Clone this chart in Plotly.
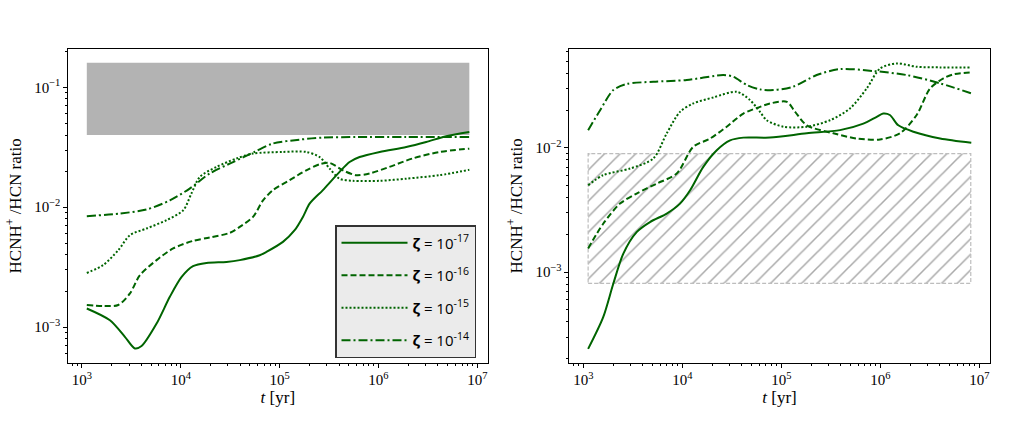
import plotly.graph_objects as go

# ---- data: left panel ----
t_l_17 = [1.12e3, 1.92e3, 2.72e3, 3.43e3, 4.01e3, 5.69e3, 7.75e3, 1.02e4, 1.33e4, 1.82e4, 2.9e4,
          3.95e4, 6.29e4, 7.35e4, 1.08e5, 1.42e5, 1.72e5, 2.01e5, 2.74e5, 4.04e5, 5.1e5, 6.44e5,
          1.03e6, 1.91e6, 3.04e6, 4.83e6, 8.3e6]
r_l_17 = [1.43e-3, 1.14e-3, 8.3e-4, 6.64e-4, 6.95e-4, 1.07e-3, 1.79e-3, 2.62e-3, 3.22e-3, 3.43e-3, 3.5e-3,
          3.62e-3, 3.98e-3, 4.24e-3, 5.14e-3, 6.43e-3, 8.3e-3, 1.07e-2, 1.39e-2, 1.97e-2, 2.38e-2, 2.62e-2,
          2.89e-2, 3.18e-2, 3.5e-2, 3.91e-2, 4.24e-2]

t_l_16 = [1.12e3, 1.64e3, 2.33e3, 3.06e3, 3.86e3, 5.69e3, 8.37e3, 1.33e4, 1.96e4, 3.13e4, 3.95e4,
          5.38e4, 6.79e4, 8.57e4, 1.26e5, 1.86e5, 2.54e5, 3.21e5, 4.37e5, 5.96e5, 8.13e5, 1.29e6,
          2.22e6, 4.14e6, 8.3e6]
r_l_16 = [1.53e-3, 1.50e-3, 1.53e-3, 1.91e-3, 2.71e-3, 3.62e-3, 4.53e-3, 5.24e-3, 5.59e-3, 6.11e-3, 6.86e-3,
          8.3e-3, 1.14e-2, 1.39e-2, 1.68e-2, 2.03e-2, 2.28e-2, 2.34e-2, 2.03e-2, 1.85e-2, 1.91e-2, 2.17e-2,
          2.55e-2, 2.89e-2, 3.08e-2]

t_l_15 = [1.12e3, 1.64e3, 2.33e3, 3.06e3, 4.51e3, 7.18e3, 1.06e4, 1.28e4, 1.56e4, 2.3e4, 3.66e4,
          5.38e4, 1.08e5, 1.86e5, 2.54e5, 3.21e5, 4.04e5, 5.51e5, 1.03e6, 1.91e6, 4.14e6, 8.3e6]
r_l_15 = [2.83e-3, 3.29e-3, 4.38e-3, 5.85e-3, 6.65e-3, 7.8e-3, 9.44e-3, 1.30e-2, 1.79e-2, 2.17e-2, 2.55e-2,
          2.80e-2, 2.89e-2, 2.89e-2, 2.62e-2, 2.10e-2, 1.73e-2, 1.66e-2, 1.66e-2, 1.73e-2, 1.85e-2, 2.05e-2]

t_l_14 = [1.12e3, 2.42e3, 4.51e3, 7.75e3, 1.23e4, 1.96e4, 3.38e4, 5.6e4, 8.57e4, 1.59e5, 2.74e5,
          5.96e5, 1.91e6, 8.3e6]
r_l_14 = [8.41e-3, 8.86e-3, 9.57e-3, 1.14e-2, 1.43e-2, 1.91e-2, 2.38e-2, 2.9e-2, 3.40e-2, 3.66e-2, 3.81e-2,
          3.85e-2, 3.85e-2, 3.85e-2]

# ---- data: right panel ----
t_r_17 = [1.12e3, 1.59e3, 2.01e3, 2.54e3, 3.46e3, 4.72e3, 6.97e3, 9.49e3, 1.2e4, 1.63e4, 2.23e4,
          3.04e4, 4.14e4, 7.69e4, 1.81e5, 3.92e5, 6.74e5, 9.2e5, 1.07e6, 1.25e6, 1.52e6, 2.16e6,
          4.02e6, 8.3e6]
r_r_17 = [2.41e-4, 4.34e-4, 8.05e-4, 1.41e-3, 2.10e-3, 2.53e-3, 2.96e-3, 3.56e-3, 4.56e-3, 7.03e-3, 9.58e-3,
          1.15e-2, 1.21e-2, 1.21e-2, 1.31e-2, 1.39e-2, 1.57e-2, 1.78e-2, 1.89e-2, 1.84e-2, 1.52e-2, 1.35e-2,
          1.19e-2, 1.10e-2]

t_r_16 = [1.12e3, 1.59e3, 2.35e3, 3.46e3, 5.52e3, 8.79e3, 1.29e4, 1.91e4, 2.81e4, 4.14e4, 6.1e4,
          7.69e4, 1.14e5, 1.38e5, 1.81e5, 3.36e5, 5.78e5, 9.94e5, 1.58e6, 2.33e6, 3.18e6, 4.34e6,
          5.47e6, 8.3e6]
r_r_16 = [1.55e-3, 2.45e-3, 3.56e-3, 4.29e-3, 5.16e-3, 6.22e-3, 1.02e-2, 1.19e-2, 1.48e-2, 1.89e-2, 2.14e-2,
          2.28e-2, 2.35e-2, 1.95e-2, 1.52e-2, 1.31e-2, 1.19e-2, 1.17e-2, 1.31e-2, 1.84e-2, 3.01e-2, 3.63e-2,
          3.91e-2, 4.06e-2]

t_r_15 = [1.12e3, 1.59e3, 2.97e3, 5.1e3, 6.97e3, 9.49e3, 1.29e4, 2.06e4, 3.55e4, 4.83e4, 6.1e4,
          7.13e4, 1.05e5, 1.81e5, 3.11e5, 4.95e5, 7.29e5, 9.94e5, 1.47e6, 2.33e6, 4.02e6, 8.3e6]
r_r_15 = [5.0e-3, 6.03e-3, 6.82e-3, 8.22e-3, 1.31e-2, 1.95e-2, 2.28e-2, 2.55e-2, 2.83e-2, 2.43e-2, 1.95e-2,
          1.67e-2, 1.48e-2, 1.48e-2, 1.67e-2, 2.08e-2, 3.01e-2, 4.36e-2, 4.79e-2, 4.5e-2, 4.45e-2, 4.45e-2]

t_r_14 = [1.12e3, 1.48e3, 2.01e3, 2.75e3, 5.1e3, 1.11e4, 2.6e4, 3.28e4, 4.48e4, 6.1e4, 8.31e4,
          1.32e5, 2.28e5, 3.92e5, 8.51e5, 1.85e6, 4.02e6, 8.3e6]
r_r_14 = [1.39e-2, 2.01e-2, 2.92e-2, 3.27e-2, 3.41e-2, 3.52e-2, 3.86e-2, 3.74e-2, 3.21e-2, 2.96e-2, 2.92e-2,
          3.11e-2, 3.86e-2, 4.31e-2, 4.16e-2, 3.86e-2, 3.31e-2, 2.75e-2]

# observed ranges (boxes)
box_l_t = [1.12e3, 8.3e6]
box_l_r = [0.04, 0.16]
box_r_t = [1.12e3, 8.2e6]
box_r_r = [8.1e-4, 9.0e-3]

zeta_labels = ['<b>ζ</b> = 10<sup>-17</sup>', '<b>ζ</b> = 10<sup>-16</sup>',
               '<b>ζ</b> = 10<sup>-15</sup>', '<b>ζ</b> = 10<sup>-14</sup>']
dashes = ['solid', '6px,3px', '2px,2px', '9px,3px,2px,3px']
green = '#006400'

fig = go.Figure()

# left grey box
fig.add_trace(go.Scatter(
    x=[box_l_t[0], box_l_t[1], box_l_t[1], box_l_t[0], box_l_t[0]],
    y=[box_l_r[0], box_l_r[0], box_l_r[1], box_l_r[1], box_l_r[0]],
    mode='lines', fill='toself', fillcolor='#b3b3b3', line=dict(width=0),
    showlegend=False, hoverinfo='skip', xaxis='x', yaxis='y'))

# right hatched box
fig.add_trace(go.Scatter(
    x=[box_r_t[0], box_r_t[1], box_r_t[1], box_r_t[0], box_r_t[0]],
    y=[box_r_r[0], box_r_r[0], box_r_r[1], box_r_r[1], box_r_r[0]],
    mode='lines', fill='toself', fillcolor='rgba(0,0,0,0)',
    fillpattern=dict(shape='/', fgcolor='#555555', bgcolor='white', size=11, solidity=0.14),
    line=dict(color='#bdbdbd', width=1.2, dash='4px,2px'),
    showlegend=False, hoverinfo='skip', xaxis='x2', yaxis='y2'))

left = [(t_l_17, r_l_17), (t_l_16, r_l_16), (t_l_15, r_l_15), (t_l_14, r_l_14)]
right = [(t_r_17, r_r_17), (t_r_16, r_r_16), (t_r_15, r_r_15), (t_r_14, r_r_14)]

for i, (t, r) in enumerate(left):
    fig.add_trace(go.Scatter(
        x=t, y=r, mode='lines', name=zeta_labels[i], legendgroup=f'g{i}',
        line=dict(color=green, width=2, dash=dashes[i], shape='spline', smoothing=0.8),
        xaxis='x', yaxis='y'))

for i, (t, r) in enumerate(right):
    fig.add_trace(go.Scatter(
        x=t, y=r, mode='lines', name=zeta_labels[i], legendgroup=f'g{i}', showlegend=False,
        line=dict(color=green, width=2, dash=dashes[i], shape='spline', smoothing=0.8),
        xaxis='x2', yaxis='y2'))

serif = 'Liberation Serif, DejaVu Serif, serif'
tick_font = dict(family=serif, size=12, color='black')
title_font = dict(family=serif, size=17, color='black')

xcommon = dict(type='log', range=[2.856, 7.108], dtick=1, exponentformat='power',
               ticks='outside', ticklen=4, tickcolor='black', showline=True, linecolor='black',
               linewidth=1, mirror=True, showgrid=False, zeroline=False, tickfont=tick_font,
               automargin=False,
               minor=dict(ticks='outside', ticklen=2, tickcolor='black', dtick='D1', showgrid=False),
               title=dict(text='<i>t</i> [yr]', font=title_font, standoff=0))
ycommon = dict(type='log', dtick=1, exponentformat='power',
               ticks='outside', ticklen=4, tickcolor='black', showline=True, linecolor='black',
               linewidth=1, mirror=True, showgrid=False, zeroline=False, tickfont=tick_font,
               automargin=False,
               minor=dict(ticks='outside', ticklen=2, tickcolor='black', dtick='D1', showgrid=False),
               title=dict(text='HCNH<sup>+</sup> /HCN ratio', font=title_font, standoff=8))

ybot = 1 - 362.5 / 428
ytop = 1 - 49.3 / 428

fig.update_layout(
    width=1034, height=428,
    margin=dict(l=0, r=0, t=0, b=0),
    paper_bgcolor='white', plot_bgcolor='white',
    xaxis=dict(xcommon, domain=[67.7 / 1034, 488 / 1034], anchor='y'),
    yaxis=dict(ycommon, domain=[ybot, ytop], range=[-3.295, -0.683], anchor='x'),
    xaxis2=dict(xcommon, domain=[569 / 1034, 990 / 1034], anchor='y2'),
    yaxis2=dict(ycommon, domain=[ybot, ytop], range=[-3.728, -1.206], anchor='x2'),
    legend=dict(
        x=335 / 1034, y=1 - 225 / 428, xanchor='left', yanchor='top',
        bgcolor='#ebebeb', bordercolor='#333333', borderwidth=1.5,
        font=dict(family='Open Sans', size=15, color='black'),
        itemwidth=66, tracegroupgap=10, traceorder='grouped'),
    showlegend=True,
)

fig.write_html("out.html", config={'displayModeBar': False},
               post_script="document.body.style.margin='0';")
